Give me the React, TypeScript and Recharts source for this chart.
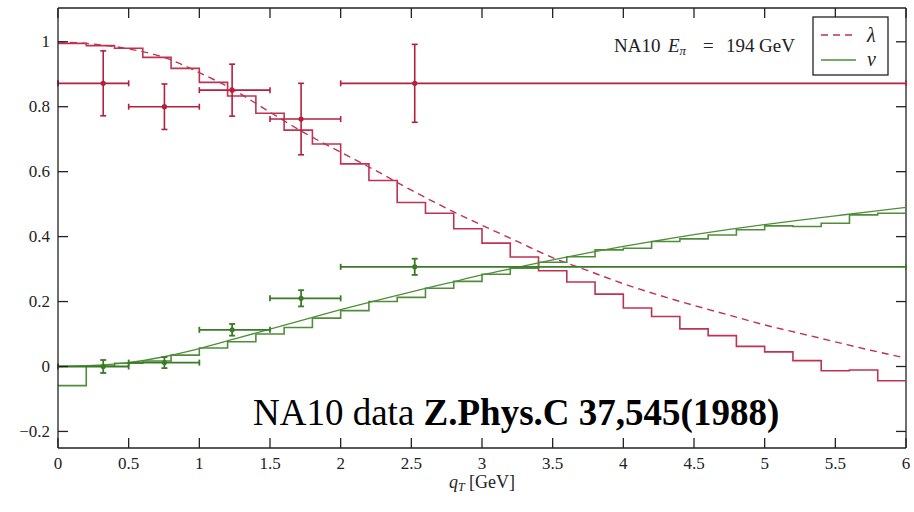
import React from "react";
import {
  ComposedChart,
  Line,
  Scatter,
  ErrorBar,
  XAxis,
  YAxis,
  ReferenceLine,
} from "recharts";

// chart geometry
const W = 914;
const H = 512;
const TOP = 8;
const RIGHT = 906;
const SERIF = "Liberation Serif, Tinos, Times New Roman, DejaVu Serif, serif";
const INK = "#222";

const RED = "#b3203c";
const RED_HIST = "#bf3352";
const GREEN = "#3b7a26";
const GREEN_HIST = "#4f8d3a";

// histogram bins (lower edges, GeV)
const binEdges = [
  0, 0.2, 0.4, 0.6, 0.8, 1.0, 1.2, 1.4, 1.6, 1.8, 2.0, 2.2, 2.4, 2.6, 2.8,
  3.0, 3.2, 3.4, 3.6, 3.8, 4.0, 4.2, 4.4, 4.6, 4.8, 5.0, 5.2, 5.4, 5.6, 5.8,
];
const lambdaHist = [
  0.995, 0.988, 0.98, 0.952, 0.918, 0.875, 0.833, 0.78, 0.728, 0.685, 0.624,
  0.573, 0.505, 0.472, 0.424, 0.38, 0.337, 0.295, 0.26, 0.223, 0.18, 0.154,
  0.116, 0.095, 0.062, 0.045, 0.018, -0.013, -0.011, -0.044,
];
const nuHist = [
  -0.059, 0.001, 0.01, 0.017, 0.035, 0.057, 0.076, 0.1, 0.12, 0.149, 0.172,
  0.2, 0.213, 0.241, 0.262, 0.284, 0.303, 0.321, 0.338, 0.359, 0.364, 0.385,
  0.393, 0.405, 0.421, 0.433, 0.431, 0.441, 0.467, 0.472,
];

// smooth curves
const curveX = [
  0, 0.25, 0.5, 0.75, 1.0, 1.25, 1.5, 1.75, 2.0, 2.25, 2.5, 2.75, 3.0, 3.25,
  3.5, 3.75, 4.0, 4.25, 4.5, 4.75, 5.0, 5.25, 5.5, 5.75, 6.0,
];
const lambdaCurve = [
  1.0, 0.993, 0.978, 0.952, 0.905, 0.85, 0.783, 0.718, 0.66, 0.603, 0.543,
  0.487, 0.435, 0.385, 0.335, 0.295, 0.255, 0.22, 0.188, 0.158, 0.128, 0.102,
  0.076, 0.05, 0.026,
];
const nuCurve = [
  0, 0.003, 0.012, 0.03, 0.055, 0.085, 0.115, 0.145, 0.175, 0.203, 0.23,
  0.256, 0.282, 0.305, 0.328, 0.35, 0.37, 0.388, 0.406, 0.422, 0.437, 0.451,
  0.464, 0.477, 0.49,
];

// NA10 data points
const pointX = [0.32, 0.753, 1.232, 1.72, 2.524];
const pointXLow = [0, 0.5, 1.0, 1.5, 2.0];
const pointXHigh = [0.5, 1.0, 1.5, 2.0, 6.0];
const lambdaPts = [0.872, 0.8, 0.851, 0.762, 0.872];
const lambdaErr = [0.1, 0.07, 0.08, 0.11, 0.12];
const nuPts = [0.0, 0.012, 0.113, 0.21, 0.307];
const nuErr = [0.02, 0.017, 0.018, 0.025, 0.025];

const xTicks = [0, 0.5, 1, 1.5, 2, 2.5, 3, 3.5, 4, 4.5, 5, 5.5, 6];
const yTicks = [-0.2, 0, 0.2, 0.4, 0.6, 0.8, 1];

const stepData = (vals: number[]) =>
  binEdges
    .map((x, i) => ({ x, y: vals[i] }))
    .concat([{ x: 6, y: vals[vals.length - 1] }]);

const curveData = (vals: number[]) => curveX.map((x, i) => ({ x, y: vals[i] }));

const pointData = (vals: number[], errs: number[]) =>
  pointX.map((x, i) => ({
    x,
    y: vals[i],
    ex: [x - pointXLow[i], pointXHigh[i] - x],
    ey: errs[i],
  }));

const fmt = (v: number) => (v < 0 ? "\u2212" + Math.abs(v) : String(v));

const XTick = (props: any) => {
  const { x, y, payload } = props;
  return (
    <g>
      <line x1={x} x2={x} y1={y} y2={y - 10} stroke={INK} strokeWidth={1.3} />
      <line x1={x} x2={x} y1={TOP} y2={TOP + 10} stroke={INK} strokeWidth={1.3} />
      <text x={x} y={y + 21} textAnchor="middle" style={{ fontFamily: SERIF }} fontSize={17} fill={INK}>
        {fmt(payload.value)}
      </text>
    </g>
  );
};

const YTick = (props: any) => {
  const { x, y, payload } = props;
  return (
    <g>
      <line x1={x} x2={x + 10} y1={y} y2={y} stroke={INK} strokeWidth={1.3} />
      <line x1={RIGHT} x2={RIGHT - 10} y1={y} y2={y} stroke={INK} strokeWidth={1.3} />
      <text x={x - 8} y={y + 5.5} textAnchor="end" style={{ fontFamily: SERIF }} fontSize={17} fill={INK}>
        {fmt(payload.value)}
      </text>
    </g>
  );
};

const dot = (color: string) => (props: any) =>
  <circle cx={props.cx} cy={props.cy} r={2.6} fill={color} />;

export default function App() {
  return (
    <div style={{ position: "absolute", left: 0, top: 0, width: W, height: H, background: "#fff", fontFamily: SERIF }}>
      <ComposedChart width={W} height={H} margin={{ top: TOP, right: W - RIGHT, left: 0, bottom: 24 }}>
        <XAxis
          type="number"
          dataKey="x"
          domain={[0, 6]}
          ticks={xTicks}
          allowDataOverflow
          height={40}
          tickSize={0}
          tickMargin={0}
          tick={XTick}
          tickLine={false}
          axisLine={{ stroke: INK, strokeWidth: 1.3 }}
        />
        <YAxis
          type="number"
          dataKey="y"
          domain={[-0.251, 1.104]}
          ticks={yTicks}
          allowDataOverflow
          width={58}
          tickSize={0}
          tickMargin={0}
          tick={YTick}
          tickLine={false}
          axisLine={{ stroke: INK, strokeWidth: 1.3 }}
        />
        <ReferenceLine y={1.104} stroke={INK} strokeWidth={1.3} />
        <ReferenceLine x={6} stroke={INK} strokeWidth={1.3} />

        <Line data={stepData(lambdaHist)} dataKey="y" type="stepAfter" stroke={RED_HIST} strokeWidth={1.6} dot={false} activeDot={false} isAnimationActive={false} />
        <Line data={curveData(lambdaCurve)} dataKey="y" type="monotone" stroke={RED_HIST} strokeWidth={1.4} strokeDasharray="7 5" dot={false} activeDot={false} isAnimationActive={false} />
        <Line data={stepData(nuHist)} dataKey="y" type="stepAfter" stroke={GREEN_HIST} strokeWidth={1.6} dot={false} activeDot={false} isAnimationActive={false} />
        <Line data={curveData(nuCurve)} dataKey="y" type="monotone" stroke={GREEN_HIST} strokeWidth={1.3} dot={false} activeDot={false} isAnimationActive={false} />

        <Scatter data={pointData(lambdaPts, lambdaErr)} dataKey="y" shape={dot(RED)} isAnimationActive={false}>
          <ErrorBar dataKey="ex" direction="x" width={3} stroke={RED} strokeWidth={1.6} />
          <ErrorBar dataKey="ey" direction="y" width={3} stroke={RED} strokeWidth={1.6} />
        </Scatter>
        <Scatter data={pointData(nuPts, nuErr)} dataKey="y" shape={dot(GREEN)} isAnimationActive={false}>
          <ErrorBar dataKey="ex" direction="x" width={3} stroke={GREEN} strokeWidth={1.8} />
          <ErrorBar dataKey="ey" direction="y" width={3} stroke={GREEN} strokeWidth={1.8} />
        </Scatter>
      </ComposedChart>

      <svg width={W} height={H} style={{ position: "absolute", left: 0, top: 0, pointerEvents: "none", fontFamily: SERIF }}>
        <text y={52} fontSize={19} fill={INK}>
          <tspan x={614}>NA10</tspan>
          <tspan x={668} fontStyle="italic">E</tspan>
          <tspan fontStyle="italic" fontSize={13} dy={3}>π</tspan>
          <tspan x={703} dy={-3}>=</tspan>
          <tspan x={726}>194</tspan>
          <tspan x={759}>GeV</tspan>
        </text>

        <rect x={813} y={17} width={75} height={58} fill="#fff" stroke={INK} strokeWidth={1.3} />
        <line x1={821} x2={856} y1={35} y2={35} stroke={RED_HIST} strokeWidth={1.4} strokeDasharray="7 5" />
        <text x={867} y={42} fontSize={20} fontStyle="italic" fill={INK}>λ</text>
        <line x1={821} x2={856} y1={60} y2={60} stroke={GREEN_HIST} strokeWidth={1.4} />
        <text x={867} y={66} fontSize={20} fontStyle="italic" fill={INK}>ν</text>

        <text x={482} y={488} textAnchor="middle" fontSize={18} fill={INK}>
          <tspan fontStyle="italic">q</tspan>
          <tspan fontStyle="italic" fontSize={12} dy={3}>T</tspan>
          <tspan dy={-3}>{" [GeV]"}</tspan>
        </text>

        <text x={253} y={425} fontSize={37} fill="#000">
          {"NA10 data "}
          <tspan fontWeight="bold">Z.Phys.C 37,545(1988)</tspan>
        </text>
      </svg>
    </div>
  );
}
